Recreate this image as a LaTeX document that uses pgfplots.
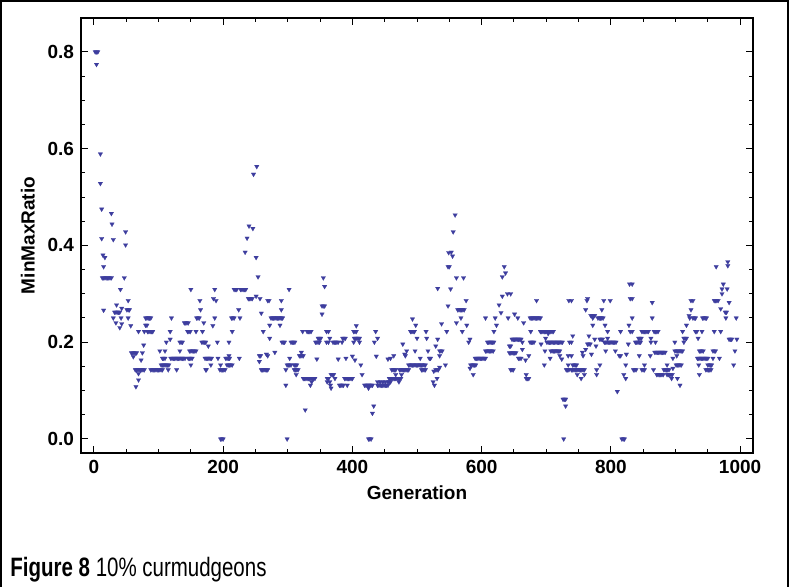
\documentclass[border=0pt]{standalone}
\usepackage{fontspec}
\setmainfont{Liberation Sans}
\newfontfamily\capfont[FakeStretch=0.77]{Liberation Sans}
\usepackage{pgfplots}
\pgfplotsset{compat=1.18}
\definecolor{ptc}{rgb}{0.24,0.24,0.62}
\begin{document}
\begin{tikzpicture}
\useasboundingbox (0,0) rectangle (395pt,293.5pt);
\draw[line width=0.8pt] (0.5pt,0) -- (0.5pt,293pt) -- (394pt,293pt) -- (394pt,0);
\begin{axis}[at={(40.5pt,67pt)},anchor=south west,scale only axis,width=336pt,height=217.5pt,
 xmin=-20,xmax=1020,ymin=-0.029,ymax=0.87,
 xtick={0,200,400,600,800,1000}, minor x tick num=3,
 ytick={0,0.2,0.4,0.6,0.8}, minor y tick num=3,
 tick align=inside, major tick length=3.5pt, minor tick length=2pt,
 tick style={black, line width=0.5pt},
 axis line style={line width=0.6pt},
 ticklabel style={font=\bfseries\fontsize{9.5}{11}\selectfont},
 xticklabel style={/pgf/number format/.cd,1000 sep={}},
 yticklabel style={/pgf/number format/.cd,fixed,fixed zerofill,precision=1},
 /pgf/number format/assume math mode=true,
 scaled ticks=false,
 xlabel={Generation}, ylabel={MinMaxRatio},
 label style={font=\bfseries\fontsize{9.5}{11}\selectfont},
 xlabel style={at={(axis description cs:0.5,-0.092)},anchor=center},
 ylabel style={at={(axis description cs:-0.079,0.5)},anchor=center},
]
\addplot[only marks, mark=triangle*, mark size=1.3pt, mark options={rotate=180, fill=ptc, draw=ptc, line width=0.1pt}] coordinates {
(2,0.800)(4,0.800)(6,0.800)(4,0.774)(10,0.589)(10,0.528)(12,0.475)(27,0.466)(28,0.444)(49,0.428)(12,0.414)(30,0.412)(49,0.401)(14,0.380)(17,0.375)(15,0.356)
(13,0.333)(15,0.333)(17,0.333)(19,0.333)(21,0.333)(23,0.333)(25,0.333)(27,0.333)(47,0.333)(41,0.309)(53,0.286)(35,0.277)(15,0.266)(43,0.270)(51,0.267)(53,0.267)(55,0.267)
(32,0.262)(34,0.262)(36,0.262)(38,0.262)(40,0.262)(30,0.250)(42,0.250)(53,0.250)(34,0.240)(43,0.238)(57,0.234)(40,0.230)(69,0.222)(78,0.222)(80,0.250)(80,0.235)(77,0.194)
(58,0.178)(60,0.178)(62,0.178)(64,0.178)(66,0.178)(75,0.178)(61,0.170)(73,0.163)(64,0.143)(66,0.143)(68,0.143)(70,0.143)(72,0.143)(74,0.143)(76,0.143)(78,0.143)(69,0.135)(69,0.122)(65,0.108)
(150,0.309)(164,0.286)(165,0.267)(82,0.250)(84,0.250)(86,0.250)(88,0.250)(120,0.250)(159,0.250)(161,0.250)(163,0.250)(140,0.240)(142,0.240)(144,0.240)(146,0.240)(170,0.240)(82,0.235)
(83,0.222)(85,0.222)(87,0.222)(89,0.222)(91,0.222)(118,0.222)(145,0.222)(147,0.222)(149,0.222)(158,0.222)(168,0.222)(118,0.206)(112,0.200)(133,0.200)(135,0.200)(137,0.200)
(167,0.200)(169,0.200)(171,0.200)(173,0.200)(102,0.182)(110,0.182)(133,0.182)(148,0.182)(150,0.182)(152,0.182)(154,0.182)(156,0.182)(158,0.182)
(106,0.1667)(108,0.1667)(110,0.1667)(119,0.1667)(121,0.1667)(123,0.1667)(125,0.1667)(127,0.1667)(129,0.1667)(131,0.1667)(133,0.1667)(135,0.1667)(137,0.1667)(139,0.1667)(141,0.1667)
(146,0.1667)(148,0.1667)(150,0.1667)(152,0.1667)(172,0.1667)(104,0.153)(106,0.153)(108,0.153)(110,0.153)(112,0.153)(114,0.153)(116,0.153)(150,0.153)
(88,0.143)(90,0.143)(92,0.143)(94,0.143)(96,0.143)(98,0.143)(100,0.143)(102,0.143)(104,0.143)(106,0.143)(115,0.143)(128,0.143)(173,0.143)
(252,0.563)(247,0.547)(240,0.440)(246,0.435)(237,0.415)(234,0.386)(251,0.375)(254,0.335)(187,0.309)(217,0.309)(219,0.309)(221,0.309)(227,0.309)(229,0.309)(231,0.309)(233,0.309)(235,0.309)
(185,0.290)(189,0.286)(239,0.290)(241,0.290)(243,0.290)(245,0.290)(251,0.295)(257,0.290)(224,0.267)(259,0.260)(187,0.250)(213,0.250)(215,0.250)(217,0.250)(226,0.250)(184,0.234)
(214,0.222)(262,0.222)(177,0.192)(191,0.200)(209,0.200)(174,0.1667)(176,0.1667)(178,0.1667)(180,0.1667)(182,0.1667)(192,0.1667)(204,0.1667)(206,0.1667)(208,0.1667)(210,0.1667)
(209,0.172)(225,0.1667)(256,0.172)(258,0.172)(256,0.160)(267,0.175)(174,0.143)(181,0.153)(196,0.153)(206,0.153)(208,0.153)(210,0.153)(212,0.153)(214,0.153)
(195,0.143)(197,0.143)(199,0.143)(201,0.143)(203,0.143)(259,0.143)(261,0.143)(263,0.143)(265,0.143)(267,0.143)(196,0)(198,0)(200,0)
(355,0.333)(357,0.315)(302,0.309)(269,0.286)(271,0.286)(290,0.286)(353,0.275)(355,0.275)(357,0.275)(290,0.267)(353,0.258)
(274,0.250)(276,0.250)(278,0.250)(280,0.250)(282,0.250)(284,0.250)(286,0.250)(288,0.250)(290,0.250)(292,0.250)(272,0.235)(288,0.235)(323,0.222)(330,0.222)(332,0.222)(334,0.222)(336,0.222)(360,0.222)
(272,0.208)(347,0.208)(349,0.208)(351,0.208)(291,0.200)(293,0.200)(295,0.200)(305,0.200)(307,0.200)(309,0.200)(311,0.200)(343,0.200)(345,0.200)(347,0.200)(349,0.200)(360,0.200)
(280,0.179)(269,0.172)(321,0.179)(303,0.1667)(318,0.172)(320,0.172)(322,0.172)(324,0.172)(345,0.165)(299,0.153)(301,0.153)(303,0.153)(305,0.153)(310,0.153)(312,0.153)(314,0.153)
(269,0.143)(297,0.143)(310,0.143)(312,0.143)(314,0.143)(316,0.143)(313,0.133)(324,0.125)(326,0.125)(328,0.125)(330,0.125)(332,0.125)(334,0.125)(336,0.125)(338,0.125)(340,0.125)(342,0.125)
(361,0.125)(337,0.118)(361,0.118)(297,0.111)(335,0.111)(327,0.060)(299,0)
(406,0.234)(402,0.222)(404,0.222)(406,0.222)(436,0.222)(363,0.222)(365,0.208)(385,0.208)(387,0.208)(389,0.208)(403,0.208)(405,0.208)(407,0.208)(409,0.208)(411,0.208)(439,0.208)
(370,0.200)(372,0.200)(374,0.200)(376,0.200)(378,0.200)(384,0.200)(402,0.200)(411,0.200)(434,0.200)(363,0.200)(400,0.171)(437,0.171)(378,0.165)(390,0.1667)(404,0.163)(413,0.153)(455,0.165)
(415,0.133)(367,0.133)(369,0.133)(371,0.133)(363,0.125)(373,0.125)(388,0.125)(390,0.125)(392,0.125)(394,0.125)(396,0.125)(398,0.125)(400,0.125)(365,0.118)(366,0.111)(367,0.105)
(380,0.111)(382,0.111)(384,0.111)(386,0.111)(392,0.111)(419,0.111)(421,0.111)(423,0.111)(425,0.111)(427,0.111)(429,0.111)(431,0.111)(425,0.105)
(439,0.111)(441,0.111)(443,0.111)(445,0.111)(447,0.111)(449,0.111)(451,0.111)(453,0.111)(455,0.111)(439,0.118)(443,0.118)(447,0.118)(451,0.118)(455,0.118)
(433,0.068)(431,0.053)(425,0)(427,0)(429,0)
(549,0.385)(548,0.356)(532,0.311)(548,0.275)(493,0.248)(498,0.235)(538,0.238)(490,0.222)(492,0.222)(494,0.222)(496,0.222)(514,0.222)(546,0.222)(500,0.208)(515,0.208)(532,0.206)
(478,0.196)(529,0.192)(484,0.182)(497,0.182)(517,0.182)(535,0.182)(537,0.182)(539,0.182)(481,0.175)(482,0.172)(535,0.172)(464,0.172)(459,0.1667)(505,0.1667)(519,0.1667)(521,0.1667)
(487,0.153)(489,0.153)(491,0.153)(493,0.153)(495,0.153)(497,0.153)(499,0.153)(501,0.153)(503,0.153)(505,0.153)(507,0.153)(509,0.153)(511,0.153)(513,0.153)(544,0.153)
(461,0.143)(463,0.143)(465,0.143)(467,0.143)(473,0.143)(475,0.143)(477,0.143)(479,0.143)(481,0.143)(483,0.143)(485,0.143)(487,0.143)(507,0.143)(509,0.143)(511,0.143)(513,0.143)
(529,0.143)(531,0.143)(533,0.143)(535,0.148)(457,0.125)(459,0.125)(461,0.125)(463,0.125)(465,0.125)(467,0.125)(469,0.125)(471,0.125)(473,0.125)(475,0.125)
(467,0.133)(476,0.133)(526,0.140)(531,0.125)(525,0.118)(457,0.118)(459,0.118)(472,0.118)(527,0.111)
(559,0.463)(556,0.428)(553,0.386)(555,0.378)(550,0.356)(635,0.356)(632,0.335)(637,0.343)(561,0.333)(572,0.333)(640,0.300)(632,0.295)(552,0.310)(576,0.286)(627,0.277)(630,0.261)
(563,0.267)(565,0.267)(567,0.267)(569,0.267)(571,0.267)(573,0.267)(568,0.250)(606,0.250)(621,0.250)(641,0.250)(561,0.240)(577,0.235)(623,0.235)(570,0.222)(619,0.222)(582,0.206)(580,0.200)
(609,0.200)(611,0.200)(613,0.200)(615,0.200)(617,0.200)(619,0.200)(643,0.192)(606,0.182)(608,0.182)(610,0.182)(612,0.182)(614,0.182)(616,0.182)(618,0.182)(643,0.178)
(590,0.1667)(592,0.1667)(594,0.1667)(596,0.1667)(598,0.1667)(600,0.1667)(602,0.1667)(604,0.1667)(606,0.1667)(583,0.153)(585,0.153)(587,0.153)(589,0.153)(591,0.153)(582,0.146)(587,0.133)
(645,0.300)(685,0.286)(735,0.286)(651,0.258)(656,0.250)(665,0.240)(675,0.250)(677,0.250)(679,0.250)(681,0.250)(683,0.250)(685,0.250)(687,0.250)(689,0.250)(691,0.250)
(676,0.222)(691,0.222)(693,0.222)(695,0.222)(697,0.222)(699,0.222)(701,0.222)(703,0.222)(705,0.222)(707,0.222)(709,0.222)(711,0.222)(703,0.218)(699,0.208)
(647,0.206)(649,0.206)(651,0.206)(653,0.206)(655,0.206)(657,0.206)(659,0.206)(661,0.206)(645,0.192)(663,0.200)(675,0.200)(677,0.200)(679,0.200)(681,0.200)(692,0.196)
(701,0.200)(703,0.200)(705,0.200)(707,0.200)(709,0.200)(711,0.200)(713,0.200)(715,0.200)(717,0.200)(719,0.200)(721,0.200)(723,0.200)(725,0.200)(736,0.200)
(663,0.185)(698,0.182)(707,0.182)(709,0.182)(711,0.182)(713,0.182)(715,0.182)(717,0.182)(719,0.182)(721,0.182)(645,0.178)(647,0.178)(649,0.178)(651,0.178)(653,0.178)
(673,0.172)(721,0.172)(734,0.172)(657,0.1667)(659,0.1667)(661,0.1667)(668,0.163)(706,0.1667)(724,0.165)(697,0.153)(734,0.153)(645,0.143)(647,0.143)(649,0.143)(731,0.143)(733,0.143)(735,0.143)
(669,0.133)(669,0.125)(671,0.125)(673,0.125)(726,0.082)(728,0.082)(730,0.082)(730,0.068)(727,0)
(829,0.320)(830,0.290)(764,0.290)(763,0.286)(739,0.286)(789,0.286)(799,0.286)(761,0.267)(786,0.267)(769,0.255)(771,0.255)(773,0.255)(775,0.255)(772,0.250)
(780,0.250)(782,0.250)(784,0.250)(786,0.250)(788,0.250)(772,0.235)(791,0.235)(828,0.235)(815,0.222)(795,0.222)(830,0.222)(741,0.213)(766,0.213)(795,0.208)(775,0.206)
(783,0.206)(785,0.206)(787,0.206)(739,0.200)(764,0.196)(766,0.196)(768,0.196)(790,0.200)(792,0.200)(794,0.200)(796,0.200)(798,0.200)(800,0.200)(802,0.200)(804,0.200)(806,0.200)(808,0.200)
(777,0.192)(827,0.196)(761,0.185)(756,0.179)(792,0.182)(807,0.182)(739,0.172)(757,0.172)(770,0.175)(813,0.172)(815,0.172)(824,0.175)(741,0.153)(743,0.153)(745,0.153)(747,0.153)(783,0.153)(823,0.153)
(739,0.143)(741,0.143)(743,0.143)(745,0.143)(747,0.143)(749,0.143)(751,0.143)(753,0.143)(755,0.143)(757,0.143)(759,0.143)(778,0.143)(748,0.133)(759,0.133)(778,0.133)(820,0.133)
(754,0.125)(823,0.125)(810,0.098)(817,0)(819,0)(821,0)
(833,0.320)(833,0.290)(864,0.282)(833,0.250)(864,0.250)(924,0.286)(924,0.267)(921,0.255)(922,0.250)(833,0.222)(848,0.222)(850,0.222)(852,0.222)(854,0.222)(856,0.222)(858,0.222)
(867,0.222)(869,0.222)(871,0.222)(873,0.222)(911,0.222)(917,0.235)(843,0.208)(845,0.208)(847,0.208)(862,0.208)(913,0.208)(915,0.208)(917,0.208)
(838,0.200)(840,0.200)(842,0.200)(844,0.200)(846,0.200)(862,0.200)(869,0.200)(899,0.200)(913,0.200)
(868,0.179)(870,0.179)(872,0.179)(874,0.179)(876,0.179)(878,0.179)(880,0.179)(882,0.179)(884,0.179)(899,0.182)(901,0.182)(903,0.182)(905,0.182)(907,0.182)(909,0.182)(911,0.182)
(844,0.172)(861,0.172)(902,0.172)(896,0.1667)(901,0.153)(903,0.153)(905,0.153)(907,0.153)(909,0.153)(852,0.153)(887,0.153)(835,0.143)(837,0.143)(839,0.143)(848,0.143)(850,0.143)(852,0.143)
(866,0.143)(882,0.143)(884,0.143)(886,0.143)(888,0.143)(890,0.143)(896,0.146)(871,0.133)(873,0.133)(875,0.133)(877,0.133)(879,0.133)(881,0.133)(887,0.133)(889,0.133)(891,0.133)(893,0.133)(895,0.133)
(894,0.125)(903,0.125)(907,0.111)
(981,0.366)(981,0.358)(963,0.356)(974,0.320)(972,0.310)(980,0.310)(972,0.300)(960,0.286)(962,0.286)(964,0.286)(966,0.286)(983,0.282)(970,0.269)(977,0.262)(979,0.262)
(927,0.250)(929,0.250)(931,0.250)(942,0.250)(944,0.250)(946,0.250)(948,0.250)(978,0.250)(994,0.250)(927,0.286)(931,0.222)(933,0.222)(941,0.222)(960,0.222)(970,0.222)(935,0.208)
(983,0.206)(985,0.206)(987,0.206)(995,0.206)(937,0.182)(939,0.182)(941,0.182)(943,0.182)(958,0.182)(960,0.182)(962,0.182)(992,0.182)
(934,0.1667)(936,0.1667)(938,0.1667)(940,0.1667)(942,0.1667)(944,0.1667)(946,0.1667)(948,0.1667)(950,0.1667)(958,0.1667)(968,0.1667)(936,0.153)(950,0.153)(952,0.153)(954,0.153)(956,0.153)(990,0.153)
(947,0.143)(949,0.143)(951,0.143)(953,0.143)(955,0.143)(937,0.133)
};
\end{axis}
\node[anchor=base west, inner sep=0pt] at (5pt,5pt) {\capfont\fontsize{13.3}{15}\selectfont\textbf{Figure 8} 10\% curmudgeons};
\end{tikzpicture}
\end{document}
